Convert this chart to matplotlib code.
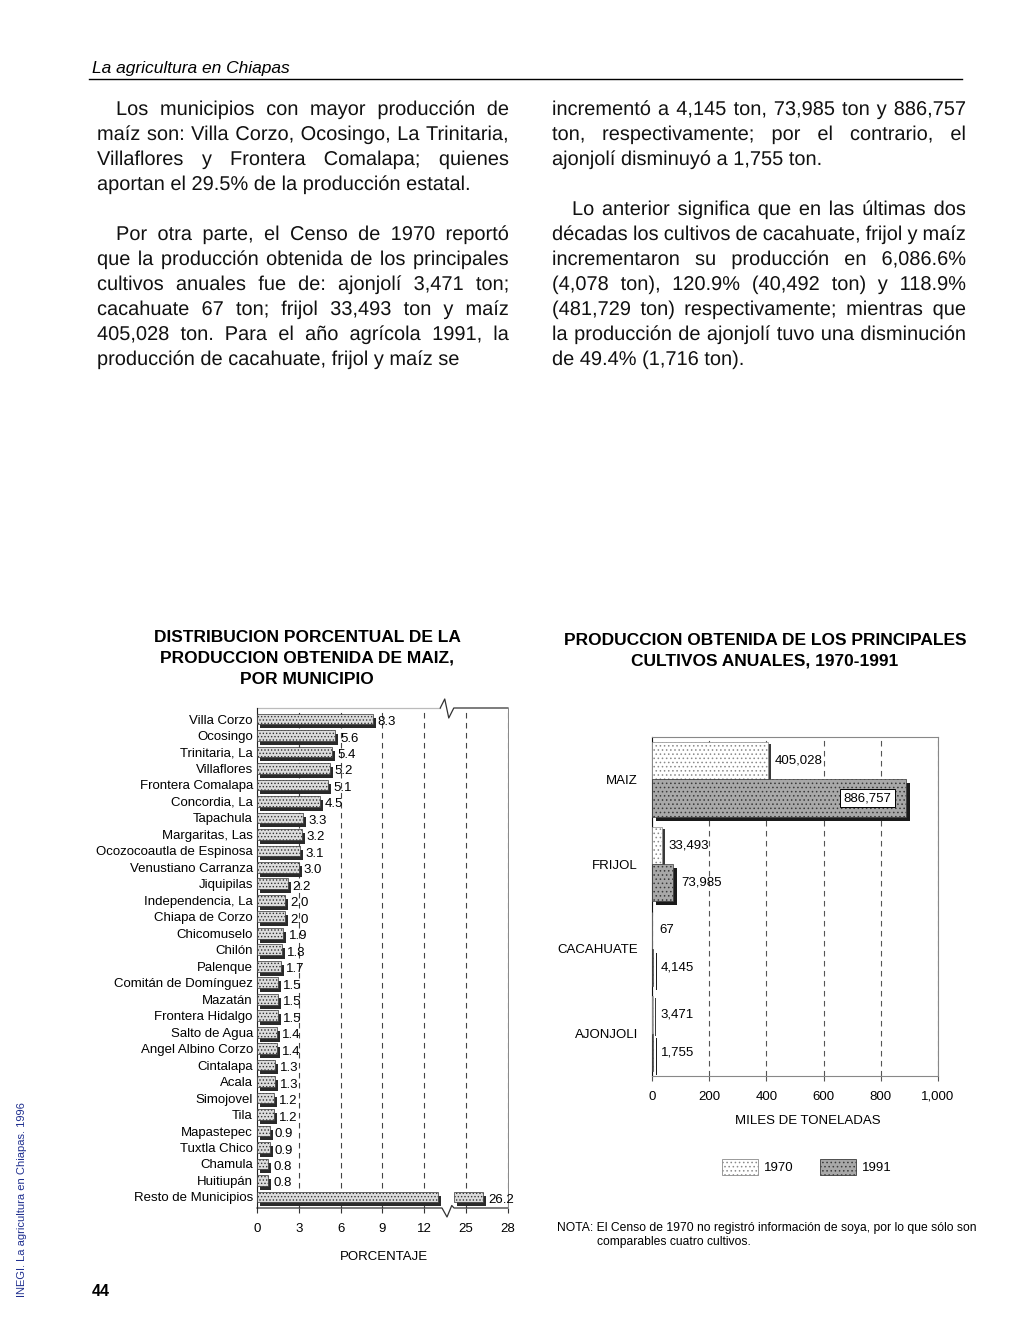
# %%
import numpy as np
import matplotlib
matplotlib.use("Agg")
import matplotlib.pyplot as plt
import matplotlib.patheffects as pe
from matplotlib.patches import Patch
from matplotlib.lines import Line2D
from matplotlib.ticker import NullLocator
from matplotlib.transforms import offset_copy

# %% data
municipios = ['Villa Corzo', 'Ocosingo', 'Trinitaria, La', 'Villaflores',
              'Frontera Comalapa', 'Concordia, La', 'Tapachula', 'Margaritas, Las',
              'Ocozocoautla de Espinosa', 'Venustiano Carranza', 'Jiquipilas',
              'Independencia, La', 'Chiapa de Corzo', 'Chicomuselo', 'Chilón',
              'Palenque', 'Comitán de Domínguez', 'Mazatán', 'Frontera Hidalgo',
              'Salto de Agua', 'Angel Albino Corzo', 'Cintalapa', 'Acala',
              'Simojovel', 'Tila', 'Mapastepec', 'Tuxtla Chico', 'Chamula',
              'Huitiupán', 'Resto de Municipios']
porcentaje = [8.3, 5.6, 5.4, 5.2, 5.1, 4.5, 3.3, 3.2, 3.1, 3.0, 2.2, 2.0, 2.0,
              1.9, 1.8, 1.7, 1.5, 1.5, 1.5, 1.4, 1.4, 1.3, 1.3, 1.2, 1.2, 0.9,
              0.9, 0.8, 0.8, 26.2]
pct_ticks = [0, 3, 6, 9, 12, 25, 28]

cultivos = ['MAIZ', 'FRIJOL', 'CACAHUATE', 'AJONJOLI']
ton_1970 = [405028, 33493, 67, 3471]
ton_1991 = [886757, 73985, 4145, 1755]
ton_ticks = [0, 200, 400, 600, 800, 1000]

# body text, line by line as printed
par1 = ['Los municipios con mayor producción de',
        'maíz son: Villa Corzo, Ocosingo, La Trinitaria,',
        'Villaflores y Frontera Comalapa; quienes',
        'aportan el 29.5% de la producción estatal.']
par2 = ['Por otra parte, el Censo de 1970 reportó',
        'que la producción obtenida de los principales',
        'cultivos anuales fue de: ajonjolí 3,471 ton;',
        'cacahuate 67 ton; frijol 33,493 ton y maíz',
        '405,028 ton. Para el año agrícola 1991, la',
        'producción de cacahuate, frijol y maíz se']
par3 = ['incrementó a 4,145 ton, 73,985 ton y 886,757',
        'ton, respectivamente; por el contrario, el',
        'ajonjolí disminuyó a 1,755 ton.']
par4 = ['Lo anterior significa que en las últimas dos',
        'décadas los cultivos de cacahuate, frijol y maíz',
        'incrementaron su producción en 6,086.6%',
        '(4,078 ton), 120.9% (40,492 ton) y 118.9%',
        '(481,729 ton) respectivamente; mientras que',
        'la producción de ajonjolí tuvo una disminución',
        'de 49.4% (1,716 ton).']

# %% page setup
W, H = 1020, 1339
plt.rcParams['font.family'] = ['Liberation Sans', 'DejaVu Sans']
plt.rcParams['hatch.linewidth'] = 0.6

fig = plt.figure(figsize=(W / 100, H / 100), dpi=100)
fig.patch.set_facecolor('white')


def fx(px):
    return px / W


def fy(py):
    return 1 - py / H


renderer = fig.canvas.get_renderer()


def text_width(s, size):
    t = fig.text(0, 0, s, size=size)
    w = t.get_window_extent(renderer).width
    t.remove()
    return w


# header
fig.text(fx(92), fy(68), 'La agricultura en Chiapas', style='italic', size=12.5, va='center')
fig.add_artist(Line2D([fx(89), fx(962)], [fy(79), fy(79)], color='black', lw=1.0))

# paragraphs: (x left, x right, first baseline, indent, lines)
paragraphs = [(97, 509, 115, 19, par1), (97, 509, 240, 19, par2),
              (552, 966, 115, 0, par3), (552, 966, 215, 20, par4)]
LINE = 25

# keep word gaps at least ~2.5 px wide
body_size = 14.4
for x0, x1, yb, ind, lines in paragraphs:
    for k, line in enumerate(lines[:-1]):
        words = line.split()
        avail = x1 - x0 - (ind if k == 0 else 0)
        wsum = sum(text_width(w, body_size) for w in words)
        if avail - wsum < 2.5 * (len(words) - 1):
            body_size *= (avail - 2.5 * (len(words) - 1)) / wsum

# glyphs drawn as paths keep every word on the same baseline
flat = [pe.Normal()]
for x0, x1, yb, ind, lines in paragraphs:
    for k, line in enumerate(lines):
        y = yb + k * LINE
        xs = x0 + (ind if k == 0 else 0)
        words = line.split()
        if k == len(lines) - 1:
            fig.text(fx(xs), fy(y), line, size=body_size, va='baseline', color='#111',
                     path_effects=flat)
            continue
        widths = [text_width(w, body_size) for w in words]
        gap = (x1 - xs - sum(widths)) / (len(words) - 1)
        xp = xs
        for w, wd in zip(words, widths):
            fig.text(fx(xp), fy(y), w, size=body_size, va='baseline', color='#111',
                     path_effects=flat)
            xp += wd + gap

# side note and page number
fig.text(fx(22), fy(1200), 'INEGI. La agricultura en Chiapas. 1996', rotation=90,
         color='#1f2f8f', size=8, ha='center', va='center')
fig.text(fx(101), fy(1291), '44', size=11.5, weight='bold', ha='center', va='center')

# %% left chart: percentage by municipio (broken axis 12 -> 25)
t1 = ['DISTRIBUCION PORCENTUAL DE LA', 'PRODUCCION OBTENIDA DE MAIZ,', 'POR MUNICIPIO']
for k, s in enumerate(t1):
    fig.text(fx(307), fy(637 + 21 * k), s, ha='center', va='center', weight='bold', size=12.5)

ax1 = fig.add_axes([fx(257), fy(1208), (508 - 257) / W, (1208 - 708) / H])


def fwd(x):
    x = np.asarray(x, dtype=float)
    return np.where(x < 13, x, np.where(x < 24, 13 + (x - 13) / 11, x - 10))


def inv(y):
    y = np.asarray(y, dtype=float)
    return np.where(y < 13, y, np.where(y < 14, 13 + (y - 13) * 11, y + 10))


ax1.set_xscale('function', functions=(fwd, inv))
ax1.set_xlim(0, 28)
rows = np.arange(len(municipios))
ax1.set_ylim(len(municipios) - 0.33, -0.67)

BRK_LO, BRK_HI = 13.0, 24.1
shadow1 = offset_copy(ax1.transData, fig=fig, x=3, y=-4, units='dots')
for i, v in zip(rows, porcentaje):
    segs = [(0, v)] if v < BRK_LO else [(0, BRK_LO), (BRK_HI, v)]
    for a, b in segs:
        ax1.barh(i, b - a, left=a, height=0.65, color='#2a2a2a', transform=shadow1, zorder=2)
        ax1.barh(i, b - a, left=a, height=0.65, facecolor='#dcdcdc', edgecolor='#333',
                 hatch='.....', lw=0.5, zorder=3)
    ax1.annotate(f'{v:.1f}', xy=(v, i), xytext=(5, -3), textcoords='offset pixels',
                 va='center', ha='left', size=9.5, zorder=4)

ax1.set_yticks(rows, municipios, size=9.5)
ax1.tick_params(axis='y', length=0, pad=3)
ax1.set_xticks(pct_ticks, [str(t) for t in pct_ticks])
ax1.xaxis.set_minor_locator(NullLocator())
ax1.tick_params(axis='x', length=3.6, direction='out', color='#333', pad=7, labelsize=9.5)
ax1.set_axisbelow(True)
ax1.grid(axis='x', ls=(0, (5, 4)), color='#444', lw=0.8)
ax1.spines['left'].set_color('#222')
ax1.spines['left'].set_linewidth(0.8)
ax1.spines['right'].set_color('#888')
ax1.spines['right'].set_linewidth(0.7)
ax1.spines['top'].set_visible(False)
ax1.spines['bottom'].set_visible(False)

# spines with break marks
brk_style = dict(transform=ax1.transAxes, clip_on=False, lw=0.9)
ax1.add_line(Line2D([0, 0.73], [1, 1], color='#bbbbbb', **brk_style))
ax1.add_line(Line2D([0.73, 0.748, 0.764, 0.784, 1], [1, 1.018, 0.98, 1, 1], color='#333', **brk_style))
ax1.add_line(Line2D([0, 0.737, 0.757, 0.776, 0.785, 1], [0, 0, -0.018, 0.005, 0, 0],
                    color='#333', **brk_style))

ax1.set_xlabel('PORCENTAJE', size=9.5)
ax1.xaxis.set_label_coords((384 - 257) / 251, (1208 - 1257) / 500)
ax1.xaxis.label.set_va('center')

# %% right chart: main crops 1970 vs 1991
t2 = ['PRODUCCION OBTENIDA DE LOS PRINCIPALES', 'CULTIVOS ANUALES, 1970-1991']
for k, s in enumerate(t2):
    fig.text(fx(765), fy(640 + 21 * k), s, ha='center', va='center', weight='bold', size=12.5)

ax2 = fig.add_axes([fx(652), fy(1076), (938 - 652) / W, (1076 - 737) / H])
ax2.set_xlim(0, 1000)
ax2.set_ylim(3.5, -0.5)
yc = np.arange(len(cultivos))
v70 = np.array(ton_1970) / 1000
v91 = np.array(ton_1991) / 1000
bh = 0.44

sh70 = offset_copy(ax2.transData, fig=fig, x=3, y=-2, units='dots')
sh91 = offset_copy(ax2.transData, fig=fig, x=4, y=-4, units='dots')
ax2.barh(yc - bh / 2, v70, height=bh, color='#3a3a3a', transform=sh70, zorder=2)
ax2.barh(yc - bh / 2, v70, height=bh, facecolor='white', edgecolor='#8a8a8a',
         hatch='....', lw=0.5, zorder=3)
ax2.barh(yc + bh / 2, v91, height=bh, color='#1a1a1a', transform=sh91, zorder=2)
ax2.barh(yc + bh / 2, v91, height=bh, facecolor='#a8a8a8', edgecolor='#3a3a3a',
         hatch='....', lw=0.5, zorder=3)

for y, v, raw in zip(yc - bh / 2, v70, ton_1970):
    ax2.annotate(f'{raw:,}', xy=(v, y), xytext=(7, 0), textcoords='offset pixels',
                 va='center', ha='left', size=9.5, zorder=4)
for y, v, raw in zip(yc + bh / 2, v91, ton_1991):
    if v > 0.8 * 1000:
        ax2.annotate(f'{raw:,}', xy=(v, y), xytext=(-14, 0), textcoords='offset pixels',
                     va='center', ha='right', size=9.5, zorder=5,
                     bbox=dict(boxstyle='square,pad=0.25', fc='white', ec='black', lw=0.7))
    else:
        ax2.annotate(f'{raw:,}', xy=(v, y), xytext=(8, 0), textcoords='offset pixels',
                     va='center', ha='left', size=9.5, zorder=4)

ax2.set_yticks(yc, cultivos, size=9.5)
ax2.tick_params(axis='y', length=0, pad=10)
ax2.set_xticks(ton_ticks, [f'{t:,}' for t in ton_ticks])
ax2.tick_params(axis='x', length=3.6, direction='out', color='#555', pad=7, labelsize=9.5)
ax2.set_axisbelow(True)
ax2.grid(axis='x', ls=(0, (5, 4)), color='#555', lw=0.8)
ax2.spines['left'].set_color('#111')
for s in ['top', 'right', 'bottom']:
    ax2.spines[s].set_color('#888')
    ax2.spines[s].set_linewidth(0.8)

ax2.set_xlabel('MILES DE TONELADAS', size=9.5)
ax2.xaxis.set_label_coords((808 - 652) / 286, (1076 - 1121) / 339)
ax2.xaxis.label.set_va('center')

handles = [Patch(facecolor='white', edgecolor='#8a8a8a', hatch='....', lw=0.6),
           Patch(facecolor='#a8a8a8', edgecolor='#3a3a3a', hatch='....', lw=0.6)]
fig.legend(handles, ['1970', '1991'], ncol=2, loc='center', bbox_to_anchor=(fx(807), fy(1167)),
           frameon=False, handlelength=2.7, handleheight=1.5, handletextpad=0.5,
           columnspacing=2.0, fontsize=9.5)

fig.text(fx(557), fy(1228), 'NOTA: El Censo de 1970 no registró información de soya, por lo que sólo son',
         size=8.7, va='center')
fig.text(fx(597), fy(1242), 'comparables cuatro cultivos.', size=8.7, va='center')

fig.savefig('out.png', dpi=100)
